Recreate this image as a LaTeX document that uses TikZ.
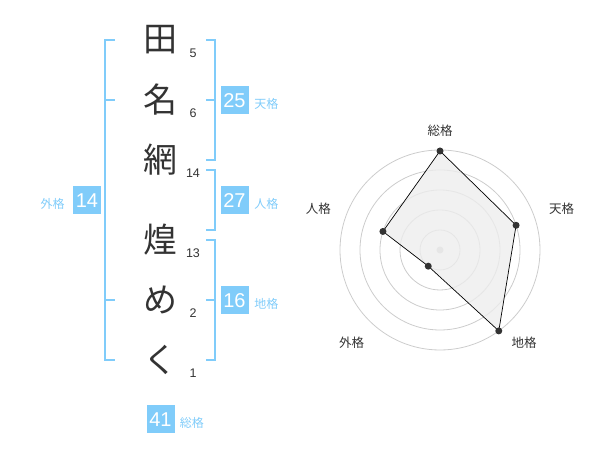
\documentclass[tikz,border=0pt]{standalone}
\usepackage{fontspec}
\setmainfont{Liberation Sans}
\newfontfamily\jpfont{Noto Sans CJK JP}
\usetikzlibrary{positioning}
\definecolor{kakublue}{RGB}{128,204,250}
\definecolor{inkgray}{RGB}{51,51,51}
\begin{document}
\begin{tikzpicture}[x=1pt, y=1pt,
    moji/.style={font=\jpfont\fontsize{34}{34}\selectfont, text=inkgray, inner sep=0pt},
    kakusu/.style={font=\fontsize{12.5}{13}\selectfont, text=inkgray, inner sep=0pt},
    bracket/.style={draw=kakublue, line width=2pt},
    kakubox/.style={fill=kakublue, text=white, minimum width=28pt, minimum height=28pt,
        inner sep=0pt, font=\fontsize{20}{20}\selectfont},
    kakuname/.style={text=kakublue, font=\jpfont\fontsize{12}{12}\selectfont, inner sep=0pt},
    ring/.style={draw=black!20, line width=0.8pt},
    jiku/.style={text=inkgray, font=\jpfont\fontsize{12.5}{13}\selectfont, inner sep=0pt},
    valdot/.style={circle, fill=inkgray, inner sep=0pt, minimum size=7pt}]
    \useasboundingbox (0,0) rectangle (600,470);
    \node[moji] (den) at (160,430) {田};
    \node[moji] (na) at (160,370) {名};
    \node[moji] (ami) at (160,310) {網};
    \node[moji] (kou) at (160,230) {煌};
    \node[moji] (me) at (160,170) {め};
    \node[moji] (ku) at (160,110) {く};
    \node[kakusu] (s1) at (193,417) {5};
    \node[kakusu] (s2) at (193,357) {6};
    \node[kakusu] (s3) at (193,297) {14};
    \node[kakusu] (s4) at (193,217) {13};
    \node[kakusu] (s5) at (193,157) {2};
    \node[kakusu] (s6) at (193,97) {1};
    \draw[bracket] (115,430) -- (105,430) -- (105,110) -- (115,110);
    \draw[bracket] (105,370) -- (115,370);
    \draw[bracket] (105,170) -- (115,170);
    \draw[bracket] (206,430) -- (215,430) -- (215,310) -- (206,310);
    \draw[bracket] (206,370) -- (215,370);
    \draw[bracket] (206,300) -- (215,300) -- (215,240) -- (206,240);
    \draw[bracket] (206,230) -- (215,230) -- (215,110) -- (206,110);
    \draw[bracket] (206,170) -- (215,170);
    \node[kakubox] (ten) at (234.5,369.5) {25};
    \node[kakuname, right=5.5pt of ten, yshift=-3.5pt] (tenl) {天格};
    \node[kakubox] (jin) at (234.5,269.5) {27};
    \node[kakuname, right=5.5pt of jin, yshift=-3.5pt] (jinl) {人格};
    \node[kakubox] (chi) at (234.5,169.5) {16};
    \node[kakuname, right=5.5pt of chi, yshift=-3.5pt] (chil) {地格};
    \node[kakubox] (gai) at (87,269.5) {14};
    \node[kakuname, left=8pt of gai, yshift=-3.5pt] (gail) {外格};
    \node[kakubox] (sou) at (160.5,50.5) {41};
    \node[kakuname, right=5pt of sou, yshift=-3.5pt] (soul) {総格};
    \begin{scope}[shift={(440,220)}]
        \foreach \r in {20,40,60,80,100}
            \draw[ring] (0,0) circle[radius=\r];
        \fill[black!20] (0,0) circle[radius=3.5];
        \coordinate (psou) at (90:99);
        \coordinate (pten) at (18:80);
        \coordinate (pchi) at (-54:100);
        \coordinate (pgai) at (-126:20);
        \coordinate (pjin) at (162:60);
        \filldraw[fill=black!7, fill opacity=0.8, draw=black, line width=0.7pt]
            (psou) -- (pten) -- (pchi) -- (pgai) -- (pjin) -- cycle;
        \foreach \p in {psou,pten,pchi,pgai,pjin}
            \node[valdot] at (\p) {};
        \node[jiku] (lsou) at (0,119.5) {総格};
        \node[jiku] (lten) at (121.7,41.7) {天格};
        \node[jiku] (lchi) at (84,-92.3) {地格};
        \node[jiku] (lgai) at (-88.3,-92.3) {外格};
        \node[jiku] (ljin) at (-121.7,41.7) {人格};
    \end{scope}
\end{tikzpicture}
\end{document}
